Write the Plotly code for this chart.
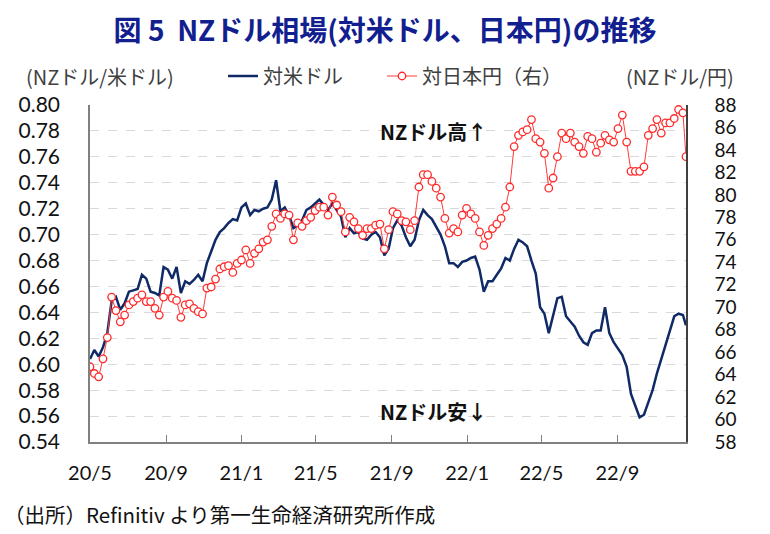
import pandas as pd
import plotly.graph_objects as go

# weekly observations from 2020-05-01, plus the last observation on 2022-12-21
dates = list(pd.date_range("2020-05-01", periods=138, freq="7D")) + [pd.Timestamp("2022-12-21")]

nzd_usd = [
    0.604, 0.611, 0.606, 0.613, 0.624, 0.649, 0.652, 0.642, 0.647, 0.656,
    0.657, 0.658, 0.669, 0.666, 0.656, 0.655, 0.653, 0.675, 0.673, 0.666,
    0.675, 0.655, 0.664, 0.662, 0.665, 0.669, 0.664, 0.678, 0.687, 0.696,
    0.702, 0.705, 0.709, 0.712, 0.711, 0.721, 0.724, 0.715, 0.719, 0.718,
    0.720, 0.721, 0.727, 0.742, 0.718, 0.721, 0.715, 0.705, 0.707, 0.711,
    0.719, 0.721, 0.724, 0.727, 0.723, 0.719, 0.724, 0.719, 0.714, 0.698,
    0.705, 0.701, 0.702, 0.697, 0.696, 0.700, 0.702, 0.698, 0.684, 0.689,
    0.705, 0.711, 0.707, 0.698, 0.691, 0.696, 0.711, 0.719, 0.715, 0.712,
    0.706, 0.700, 0.691, 0.678, 0.678, 0.675, 0.679, 0.680, 0.682, 0.683,
    0.673, 0.656, 0.664, 0.664, 0.669, 0.674, 0.682, 0.680, 0.689, 0.696,
    0.694, 0.691, 0.680, 0.670, 0.644, 0.639, 0.624, 0.638, 0.651, 0.652,
    0.637, 0.633, 0.629, 0.622, 0.617, 0.615, 0.624, 0.626, 0.626, 0.644,
    0.624, 0.617, 0.612, 0.607, 0.598, 0.577, 0.568, 0.559, 0.561, 0.570,
    0.580, 0.593, 0.604, 0.615, 0.625, 0.637, 0.639, 0.638, 0.630,
]

nzd_jpy = [
    64.7, 64.1, 63.8, 65.4, 67.3, 70.9, 69.7, 68.7, 69.3, 70.2,
    70.5, 70.8, 71.1, 70.5, 70.5, 69.9, 69.3, 70.9, 71.4, 70.8,
    70.6, 69.1, 70.2, 70.3, 69.9, 69.6, 69.4, 71.7, 71.8, 72.5,
    73.4, 73.6, 73.7, 73.1, 73.9, 74.2, 75.1, 73.9, 74.8, 75.2,
    75.8, 76.0, 77.2, 78.3, 77.9, 78.3, 78.2, 76.0, 77.5, 77.2,
    77.7, 78.0, 78.6, 78.9, 78.9, 78.2, 79.8, 79.1, 78.5, 76.7,
    78.0, 77.6, 77.0, 76.4, 77.0, 77.0, 77.3, 77.4, 75.2, 76.9,
    78.5, 78.3, 77.7, 77.6, 76.9, 77.7, 80.7, 81.8, 81.8, 81.2,
    80.6, 79.8, 77.9, 76.6, 77.0, 76.7, 78.2, 78.8, 78.3, 77.9,
    76.7, 75.5, 76.4, 77.0, 77.4, 77.9, 78.9, 80.7, 84.3, 85.3,
    85.6, 85.8, 86.7, 85.0, 84.7, 83.7, 80.6, 81.5, 83.4, 85.5,
    85.0, 85.5, 84.7, 84.3, 83.7, 85.2, 85.0, 83.8, 84.6, 85.3,
    84.9, 84.7, 85.9, 87.1, 84.7, 82.1, 82.1, 82.1, 82.5, 85.3,
    85.9, 86.7, 85.5, 86.4, 86.4, 86.8, 87.6, 87.3, 83.4,
]

x_tick_vals = ["2020-05-01", "2020-09-01", "2021-01-01", "2021-05-01",
               "2021-09-01", "2022-01-01", "2022-05-01", "2022-09-01"]
x_tick_text = ["20/5", "20/9", "21/1", "21/5", "21/9", "22/1", "22/5", "22/9"]
left_ticks = [0.54, 0.56, 0.58, 0.60, 0.62, 0.64, 0.66, 0.68, 0.70,
              0.72, 0.74, 0.76, 0.78, 0.80]
right_ticks = [58, 60, 62, 64, 66, 68, 70, 72, 74, 76, 78, 80, 82, 84, 86, 88]

JP = "Noto Sans CJK JP"
NUM = "Lato"

fig = go.Figure()
fig.add_trace(go.Scatter(
    x=dates, y=nzd_usd, name="対米ドル", mode="lines",
    line=dict(color="#0F2A66", width=2.5), legend="legend",
))
fig.add_trace(go.Scatter(
    x=dates, y=nzd_jpy, name="対日本円（右）", yaxis="y2", mode="lines+markers",
    line=dict(color="#FF3B3B", width=1),
    marker=dict(symbol="circle", size=7.5, color="white",
                line=dict(color="#FF2A2A", width=1.3)),
    legend="legend2",
))

legend_common = dict(orientation="h", xanchor="left", y=(442 - 76) / 337, yanchor="middle",
                     font=dict(family=JP, size=20, color="#404040"),
                     bgcolor="rgba(0,0,0,0)")

fig.update_layout(
    width=770, height=534,
    margin=dict(l=90, r=84, t=105, b=92),
    paper_bgcolor="white", plot_bgcolor="white",
    title=dict(text="<b>図 5  NZドル相場(対米ドル、日本円)の推移</b>",
               x=0.5, xanchor="center", y=1 - 31 / 534, yanchor="middle",
               font=dict(family=JP, size=28, color="#12208F")),
    showlegend=True,
    legend=dict(x=(223 - 90) / 596, **legend_common),
    legend2=dict(x=(382 - 90) / 596, **legend_common),
    xaxis=dict(type="date", range=[dates[0], dates[-1]],
               tickvals=x_tick_vals, ticktext=x_tick_text,
               ticks="inside", ticklen=7, tickcolor="#808080", tickwidth=1,
               showline=True, linecolor="#808080", linewidth=1.5,
               showgrid=False, zeroline=False, ticklabelstandoff=12,
               tickfont=dict(family=NUM, size=20, color="#111111")),
    yaxis=dict(range=[0.54, 0.80], tickvals=left_ticks, tickformat=".2f",
               showline=True, linecolor="#808080", linewidth=1.5,
               showgrid=True, gridcolor="#D9D9D9", griddash="dash", gridwidth=1,
               zeroline=False, ticks="", ticklabelstandoff=24,
               tickfont=dict(family=NUM, size=21, color="#111111")),
    yaxis2=dict(range=[58, 88], tickvals=right_ticks, overlaying="y", side="right",
                showline=True, linecolor="#404040", linewidth=1.5,
                showgrid=False, zeroline=False, ticks="", ticklabelstandoff=23,
                tickfont=dict(family=NUM, size=19, color="#111111")),
    annotations=[
        dict(text="(NZドル/米ドル)", xref="paper", yref="paper",
             x=(24 - 90) / 596, y=(442 - 76) / 337, xanchor="left", yanchor="middle",
             showarrow=False, font=dict(family=JP, size=20, color="#404040")),
        dict(text="(NZドル/円)", xref="paper", yref="paper",
             x=(736 - 90) / 596, y=(442 - 76) / 337, xanchor="right", yanchor="middle",
             showarrow=False, font=dict(family=JP, size=20, color="#404040")),
        dict(text="<b>NZドル高↑</b>", xref="paper", yref="paper",
             x=(378 - 90) / 596, y=(442 - 131) / 337, xanchor="left", yanchor="middle",
             showarrow=False, font=dict(family=JP, size=20, color="#111111")),
        dict(text="<b>NZドル安↓</b>", xref="paper", yref="paper",
             x=(378 - 90) / 596, y=(442 - 411) / 337, xanchor="left", yanchor="middle",
             showarrow=False, font=dict(family=JP, size=20, color="#111111")),
        dict(text="（出所）Refinitiv より第一生命経済研究所作成", xref="paper", yref="paper",
             x=(2 - 90) / 596, y=(442 - 514) / 337, xanchor="left", yanchor="middle",
             showarrow=False, font=dict(family=JP, size=20.5, color="#111111")),
    ],
)

fig.write_html("out.html")
